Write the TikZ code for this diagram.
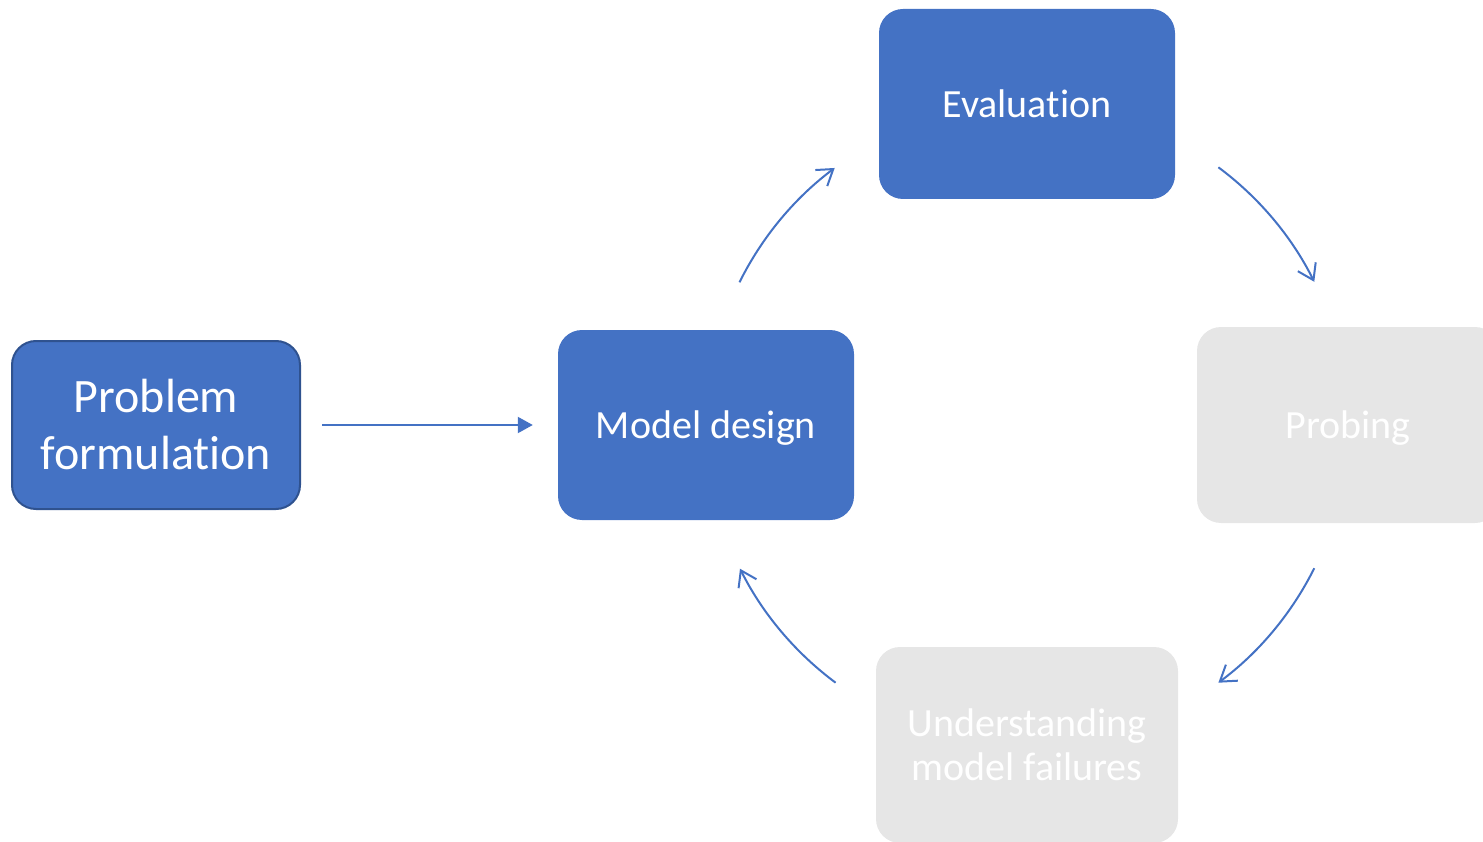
\documentclass[tikz,border=0pt]{standalone}
\usepackage{fontspec}
\setmainfont[Ligatures=NoCommon]{Carlito}
\usetikzlibrary{arrows.meta}
\definecolor{boxblue}{HTML}{4472C4}
\definecolor{boxedge}{HTML}{2F528F}
\definecolor{boxgray}{HTML}{E6E6E6}
\tikzset{
  bluebox/.style={rectangle, rounded corners=24pt, fill=boxblue, text=white,
    minimum width=296pt, minimum height=190pt, inner sep=0pt, align=center,
    font=\fontsize{40}{44}\selectfont},
  graybox/.style={bluebox, fill=boxgray, minimum width=302pt, minimum height=196pt},
  startbox/.style={bluebox, draw=boxedge, line width=2pt, minimum width=288pt,
    minimum height=168pt, font=\fontsize{48}{57}\selectfont},
  oneline/.style={text depth=0pt},
  flow/.style={draw=boxblue, line width=2pt, -{Triangle[length=15pt,width=16pt]}},
  loopflow/.style={draw=boxblue, line width=2pt, -{Straight Barb[length=15pt,width=20pt]}}
}
\begin{document}
\begin{tikzpicture}[x=1pt,y=1pt]
\useasboundingbox (0,0) rectangle (1483,-842);
\clip (0,0) rectangle (1483,-842);

% boxes
\node[startbox] (pf) at (156,-425) {Problem\\formulation};
\node[bluebox, oneline] (md) at (706,-425) {Model design};
\node[bluebox] (ev) at (1027,-104) {Evaluation};
\node[graybox, oneline] (pr) at (1348,-425) {Probing};
\node[graybox] (uf) at (1027,-745) {Understanding\\model failures};

% straight link into the loop
\path (pf.east) ++(21,0) coordinate (s1) (md.west) ++(-25,0) coordinate (s2);
\draw[flow] (s1) -- (s2);

% the loop: arcs of one circle around the middle of the cycle
\coordinate (c) at (1027,-425);
\path (c) ++(153.6:321) coordinate (a1)
      (c) ++(53.4:321) coordinate (b1)
      (c) ++(-26.5:321) coordinate (d1)
      (c) ++(-126.6:321) coordinate (e1);
\draw[loopflow] (a1) arc[start angle=153.6, end angle=126.8, radius=321];
\draw[loopflow] (b1) arc[start angle=53.4, end angle=26.5, radius=321];
\draw[loopflow] (d1) arc[start angle=-26.5, end angle=-53.4, radius=321];
\draw[loopflow] (e1) arc[start angle=-126.6, end angle=-153.4, radius=321];
\end{tikzpicture}
\end{document}
